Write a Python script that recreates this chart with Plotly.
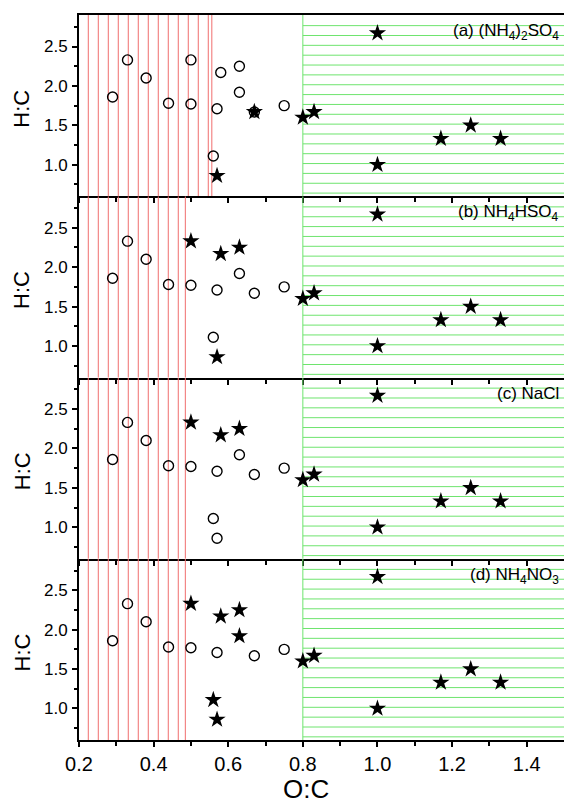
import plotly.graph_objects as go
from plotly.subplots import make_subplots

# ---- data ----
oc = [0.29, 0.33, 0.38, 0.44, 0.50, 0.50, 0.57, 0.58, 0.63, 0.63, 0.56,
      0.57, 0.67, 0.75, 0.80, 0.83, 1.00, 1.00, 1.17, 1.25, 1.33]
hc = [1.86, 2.33, 2.10, 1.78, 2.33, 1.77, 1.71, 2.17, 2.25, 1.92, 1.11,
      0.86, 1.67, 1.75, 1.60, 1.67, 2.67, 1.00, 1.33, 1.50, 1.33]

# phase per panel: C = open circle, S = star, B = both
phase_a = list("CCCCCCCCCCCSBC") + list("SSSSSSS")
phase_b = list("CCCCSCCSSCCSCC") + list("SSSSSSS")
phase_c = list("CCCCSCCSSCCCCC") + list("SSSSSSS")
phase_d = list("CCCCSCCSSSSSCC") + list("SSSSSSS")
phases = [phase_a, phase_b, phase_c, phase_d]

panel_labels = ["(a) (NH<sub>4</sub>)<sub>2</sub>SO<sub>4</sub>",
                "(b) NH<sub>4</sub>HSO<sub>4</sub>",
                "(c) NaCl",
                "(d) NH<sub>4</sub>NO<sub>3</sub>"]

liquid_bound = [0.556, 0.485, 0.485, 0.485]   # right edge of vertical-hatched region
solid_start = 0.8                               # left edge of horizontal-hatched region

x_ticks = [0.2, 0.4, 0.6, 0.8, 1.0, 1.2, 1.4]
y_ticks = [1.0, 1.5, 2.0, 2.5]

FONT = "Arial, Liberation Sans, sans-serif"
RED = "rgb(240,110,110)"
GREEN = "rgb(110,228,110)"

fig = make_subplots(rows=4, cols=1, shared_xaxes=True, vertical_spacing=0)

shapes = []
vstep = 0.0268
hstep = 0.125
for i in range(4):
    r = i + 1
    xr = "x" if r == 1 else f"x{r}"
    yr = "y" if r == 1 else f"y{r}"
    # vertical red hatch
    xv = 0.2249
    while xv < liquid_bound[i] - 0.006:
        shapes.append(dict(type="line", xref=xr, yref=yr, x0=xv, x1=xv, y0=0.6, y1=2.9,
                           line=dict(color=RED, width=1), layer="below"))
        xv += vstep
    shapes.append(dict(type="line", xref=xr, yref=yr, x0=liquid_bound[i], x1=liquid_bound[i],
                       y0=0.6, y1=2.9, line=dict(color=RED, width=1), layer="below"))
    # horizontal green hatch
    shapes.append(dict(type="line", xref=xr, yref=yr, x0=solid_start, x1=solid_start,
                       y0=0.6, y1=2.9, line=dict(color=GREEN, width=1), layer="below"))
    for k in range(18):
        yv = 2.765 - hstep * k
        shapes.append(dict(type="line", xref=xr, yref=yr, x0=solid_start, x1=1.5, y0=yv, y1=yv,
                           line=dict(color=GREEN, width=1), layer="below"))

    ph = phases[i]
    cx = [oc[j] for j in range(len(oc)) if ph[j] in "CB"]
    cy = [hc[j] for j in range(len(oc)) if ph[j] in "CB"]
    sx = [oc[j] for j in range(len(oc)) if ph[j] in "SB"]
    sy = [hc[j] for j in range(len(oc)) if ph[j] in "SB"]
    fig.add_trace(go.Scatter(x=cx, y=cy, mode="markers", showlegend=False,
                             marker=dict(symbol="circle-open", size=10, color="black",
                                         line=dict(width=1.4, color="black"))), row=r, col=1)
    fig.add_trace(go.Scatter(x=sx, y=sy, mode="markers", showlegend=False,
                             marker=dict(symbol="star", size=13, color="black",
                                         line=dict(width=0))), row=r, col=1)

    fig.update_yaxes(range=[0.6, 2.9], tickmode="array", tickvals=y_ticks,
                     ticktext=[f"{v:.1f}" for v in y_ticks],
                     ticks="outside", ticklen=5, tickwidth=1.5, tickcolor="black",
                     minor=dict(tickvals=[0.75, 1.25, 1.75, 2.25, 2.75], ticks="outside",
                                ticklen=3, tickwidth=1.5, tickcolor="black"),
                     showline=True, linecolor="black", linewidth=2, mirror=False,
                     showgrid=False, zeroline=False,
                     tickfont=dict(family=FONT, size=17, color="black"),
                     ticklabelstandoff=1, row=r, col=1)
    fig.update_xaxes(range=[0.2, 1.5], tickmode="array", tickvals=x_ticks,
                     ticktext=[f"{v:.1f}" for v in x_ticks],
                     ticks="outside", ticklen=5, tickwidth=1.5, tickcolor="black",
                     minor=dict(tickvals=[0.3, 0.5, 0.7, 0.9, 1.1, 1.3], ticks="outside",
                                ticklen=4, tickwidth=1.5, tickcolor="black"),
                     showline=True, linecolor="black", linewidth=2, mirror=(r == 1),
                     showgrid=False, zeroline=False, row=r, col=1)

    fig.add_annotation(xref=f"{xr} domain", yref=f"{yr} domain", x=1, y=1,
                       xanchor="right", yanchor="top", xshift=-3, yshift=-4,
                       text=panel_labels[i], showarrow=False,
                       font=dict(family=FONT, size=17, color="black"))
    fig.add_annotation(xref="paper", yref=f"{yr} domain", x=(22 - 79) / 485, y=0.5,
                       xanchor="center", yanchor="middle", textangle=-90, yshift=-3,
                       text="H:C", showarrow=False,
                       font=dict(family=FONT, size=22, color="black"))

fig.update_xaxes(tickfont=dict(family=FONT, size=20, color="black"),
                 showticklabels=True, row=4, col=1)

fig.add_annotation(xref="paper", yref="paper", x=(306 - 79) / 485, y=-49 / 725,
                   xanchor="center", yanchor="middle", text="O:C", showarrow=False,
                   font=dict(family=FONT, size=26, color="black"))

fig.update_layout(width=564, height=803, margin=dict(l=79, r=0, t=15, b=63),
                  paper_bgcolor="white", plot_bgcolor="white", shapes=shapes,
                  showlegend=False)

fig.write_html("out.html", config={"displayModeBar": False},
               post_script="document.body.style.margin='0px';document.body.style.overflow='hidden';")
